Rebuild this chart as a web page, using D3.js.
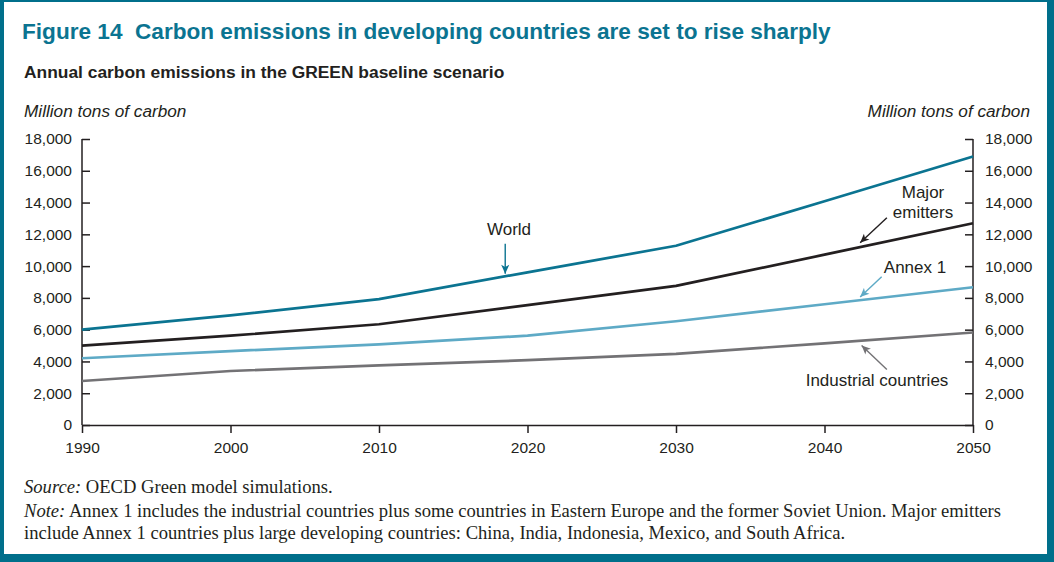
<!DOCTYPE html>
<html>
<head>
<meta charset="utf-8">
<script src="https://cdn.jsdelivr.net/npm/d3@7"></script>
<style>
  body { margin: 0; background: #fff; }
  svg { display: block; }
  .sans { font-family: "Liberation Sans", Arial, Helvetica, sans-serif; }
  .serif { font-family: "Liberation Serif", "Times New Roman", serif; }
</style>
</head>
<body>
<div id="chart"></div>
<script>
// data (million tons of carbon)
var years = [1990, 2000, 2010, 2020, 2030, 2040, 2050];
var world = [6000, 6900, 7920, 9610, 11280, 14080, 16900];
var majorEmitters = [5000, 5620, 6340, 7540, 8760, 10720, 12700];
var annex1 = [4200, 4650, 5080, 5620, 6530, 7600, 8670];
var industrial = [2770, 3400, 3750, 4080, 4480, 5140, 5820];

var yTicks = [0, 2000, 4000, 6000, 8000, 10000, 12000, 14000, 16000, 18000];
var xTicks = [1990, 2000, 2010, 2020, 2030, 2040, 2050];

var series = [
    { name: 'Industrial countries', values: industrial, color: '#737275' },
    { name: 'Annex 1', values: annex1, color: '#5eaac6' },
    { name: 'Major emitters', values: majorEmitters, color: '#231f20' },
    { name: 'World', values: world, color: '#0b7491' }
];

var W = 1054, H = 562;
var frame = '#006f8b';
var ink = '#231f20';

var svg = d3.select('#chart').append('svg')
    .attr('width', W)
    .attr('height', H);

// frame around the whole figure
svg.append('rect').attr('x', 0).attr('y', 0).attr('width', W).attr('height', H).attr('fill', frame);
svg.append('rect').attr('x', 4).attr('y', 2).attr('width', W - 11).attr('height', H - 10).attr('fill', '#fff');

// titles
svg.append('text').attr('class', 'sans')
    .attr('x', 22).attr('y', 39)
    .attr('font-size', 22.6).attr('font-weight', 'bold').attr('fill', '#0b7491')
    .text('Figure 14\u00a0\u00a0Carbon emissions in developing countries are set to rise sharply');

svg.append('text').attr('class', 'sans')
    .attr('x', 24).attr('y', 78)
    .attr('font-size', 17.4).attr('font-weight', 'bold').attr('fill', ink)
    .text('Annual carbon emissions in the GREEN baseline scenario');

svg.append('text').attr('class', 'sans')
    .attr('x', 24).attr('y', 117)
    .attr('font-size', 17.2).attr('font-style', 'italic').attr('fill', ink)
    .text('Million tons of carbon');

svg.append('text').attr('class', 'sans')
    .attr('x', 1030).attr('y', 117).attr('text-anchor', 'end')
    .attr('font-size', 17.2).attr('font-style', 'italic').attr('fill', ink)
    .text('Million tons of carbon');

// scales
var x = d3.scaleLinear().domain([1990, 2050]).range([82, 973]);
var y = d3.scaleLinear().domain([0, 18000]).range([425, 139]);

var fmt = d3.format(',');

function styleAxis(g) {
    g.selectAll('path, line').attr('stroke', ink).attr('stroke-width', 1.5);
    g.selectAll('text').attr('class', 'sans').attr('font-size', 15.5).attr('fill', ink);
}

// left axis, ticks pointing into the plot
svg.append('g')
    .attr('transform', 'translate(' + x(1990) + ',0)')
    .call(d3.axisLeft(y).tickValues(yTicks).tickFormat(fmt)
        .tickSizeInner(-8).tickSizeOuter(0).tickPadding(10))
    .call(styleAxis)
    .call(function (g) { g.select('.domain').remove(); });

// right axis
svg.append('g')
    .attr('transform', 'translate(' + x(2050) + ',0)')
    .call(d3.axisRight(y).tickValues(yTicks).tickFormat(fmt)
        .tickSizeInner(-8).tickSizeOuter(0).tickPadding(12))
    .call(styleAxis)
    .call(function (g) { g.select('.domain').remove(); });

// vertical axis lines
[1990, 2050].forEach(function (yr) {
    svg.append('line')
        .attr('x1', x(yr)).attr('x2', x(yr))
        .attr('y1', y(0)).attr('y2', y(18000))
        .attr('stroke', ink).attr('stroke-width', 1.5);
});

// bottom axis
svg.append('g')
    .attr('transform', 'translate(0,' + y(0) + ')')
    .call(d3.axisBottom(x).tickValues(xTicks).tickFormat(d3.format('d'))
        .tickSizeInner(8).tickSizeOuter(0).tickPadding(9))
    .call(styleAxis);

// lines
var line = d3.line()
    .x(function (d, i) { return x(years[i]); })
    .y(function (d) { return y(d); });

svg.selectAll('path.series')
    .data(series)
    .enter()
    .append('path')
    .attr('class', 'series')
    .attr('d', function (d) { return line(d.values); })
    .attr('fill', 'none')
    .attr('stroke', function (d) { return d.color; })
    .attr('stroke-width', 2.7)
    .attr('stroke-linejoin', 'round');

// arrow markers
var defs = svg.append('defs');
series.forEach(function (s, i) {
    defs.append('marker')
        .attr('id', 'arr' + i)
        .attr('viewBox', '0 0 10 10')
        .attr('refX', 10).attr('refY', 5)
        .attr('markerWidth', 10).attr('markerHeight', 9)
        .attr('markerUnits', 'userSpaceOnUse')
        .attr('orient', 'auto')
        .append('path')
        .attr('d', 'M0,0.5 L10,5 L0,9.5 L2.5,5 Z')
        .attr('fill', s.color);
});

// labels with arrows: text lines, text anchor point, arrow from/to (year, value)
var labels = [
    { s: 3, lines: ['World'], tx: 509, ty: 235, from: [2018.5, 11400], to: [2018.5, 9520] },
    { s: 2, lines: ['Major', 'emitters'], tx: 923, ty: 198, from: [2044.2, 13050], to: [2042.4, 11470] },
    { s: 1, lines: ['Annex 1'], tx: 915, ty: 273, from: [2043.85, 9330], to: [2042.4, 8060] },
    { s: 0, lines: ['Industrial countries'], tx: 877, ty: 386, from: [2044.2, 3500], to: [2042.5, 5010] }
];

labels.forEach(function (l) {
    var s = series[l.s];
    var t = svg.append('text').attr('class', 'sans')
        .attr('font-size', 17).attr('fill', ink).attr('text-anchor', 'middle');
    l.lines.forEach(function (txt, k) {
        t.append('tspan').attr('x', l.tx).attr('y', l.ty + k * 20).text(txt);
    });
    svg.append('line')
        .attr('x1', x(l.from[0])).attr('y1', y(l.from[1]))
        .attr('x2', x(l.to[0])).attr('y2', y(l.to[1]))
        .attr('stroke', s.color).attr('stroke-width', 1.4)
        .attr('marker-end', 'url(#arr' + l.s + ')');
});

// source and note
var src = svg.append('text').attr('class', 'serif')
    .attr('x', 24).attr('y', 493).attr('font-size', 18.6).attr('fill', ink);
src.append('tspan').attr('font-style', 'italic').text('Source:');
src.append('tspan').text(' OECD Green model simulations.');

var note1 = svg.append('text').attr('class', 'serif')
    .attr('x', 24).attr('y', 517).attr('font-size', 18.6).attr('fill', ink);
note1.append('tspan').attr('font-style', 'italic').text('Note:');
note1.append('tspan').text(' Annex 1 includes the industrial countries plus some countries in Eastern Europe and the former Soviet Union. Major emitters');

svg.append('text').attr('class', 'serif')
    .attr('x', 24).attr('y', 539).attr('font-size', 18.6).attr('fill', ink)
    .text('include Annex 1 countries plus large developing countries: China, India, Indonesia, Mexico, and South Africa.');
</script>
</body>
</html>
